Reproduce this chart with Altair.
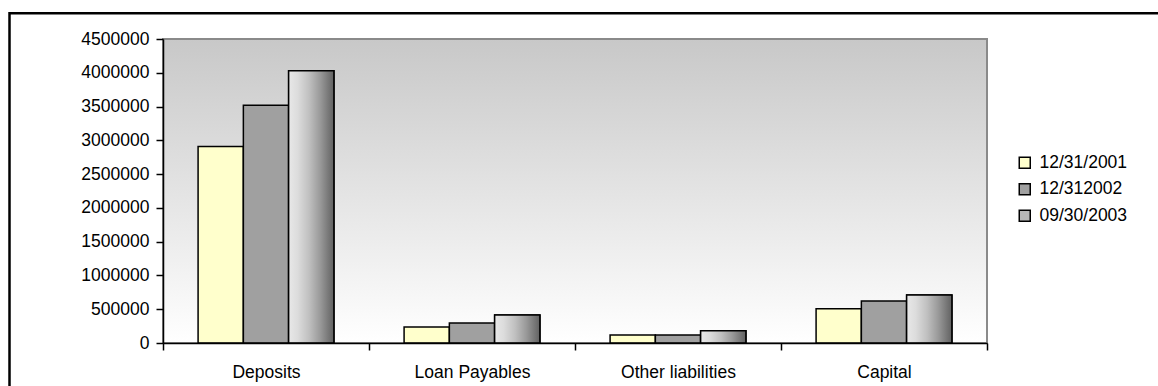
import altair as alt
import pandas as pd

categories = ["Deposits", "Loan Payables", "Other liabilities", "Capital"]
series = ["12/31/2001", "12/312002", "09/30/2003"]
values_2001 = [2910000, 236000, 120000, 506000]
values_2002 = [3520000, 295000, 117000, 620000]
values_2003 = [4030000, 413000, 182000, 712000]
y_ticks = [0, 500000, 1000000, 1500000, 2000000, 2500000, 3000000, 3500000, 4000000, 4500000]

rows = []
for s, vals in zip(series, [values_2001, values_2002, values_2003]):
    for c, v in zip(categories, vals):
        rows.append({"category": c, "series": s, "value": v})
df = pd.DataFrame(rows)

W, H = 824, 304
FONT = "Liberation Sans"
FS = 17.5

bg_grad = alt.LinearGradient(
    gradient="linear",
    stops=[alt.GradientStop(color="#c8c8c8", offset=0),
           alt.GradientStop(color="#ffffff", offset=1)],
    x1=0, x2=0, y1=0, y2=1,
)
bar_grad = alt.LinearGradient(
    gradient="linear",
    stops=[alt.GradientStop(color="#e8e8e8", offset=0),
           alt.GradientStop(color="#dcdcdc", offset=0.2),
           alt.GradientStop(color="#c0c0c0", offset=0.45),
           alt.GradientStop(color="#999999", offset=0.7),
           alt.GradientStop(color="#616161", offset=1)],
    x1=0, x2=1, y1=0, y2=0,
)

bg = alt.Chart(pd.DataFrame({"k": [0]})).mark_rect(
    fill=bg_grad, stroke="#8a8a8a", strokeWidth=2
).encode(x=alt.value(0), x2=alt.value(W), y=alt.value(0), y2=alt.value(H))

x_enc = alt.X(
    "category:N", sort=categories,
    scale=alt.Scale(paddingInner=0, paddingOuter=0),
    axis=alt.Axis(title=None, labelAngle=0, tickBand="extent", tickSize=7,
                  tickWidth=1.5, tickColor="black", domainColor="black",
                  domainWidth=1.5, labelPadding=13, labelFontSize=FS,
                  labelColor="black", labelFont=FONT, zindex=1),
)
xo_enc = alt.XOffset(
    "series:N", sort=series,
    scale=alt.Scale(domain=series, paddingInner=0, paddingOuter=0.775),
)
y_enc = alt.Y(
    "value:Q",
    scale=alt.Scale(domain=[0, 4500000], nice=False),
    axis=alt.Axis(title=None, values=y_ticks, format="d", grid=False,
                  tickSize=7, tickWidth=1.5, tickColor="black",
                  domainColor="black", domainWidth=1.5, labelPadding=7,
                  labelFontSize=FS, labelColor="black", labelFont=FONT,
                  zindex=1),
)

bars = alt.Chart(df).mark_bar(stroke="black", strokeWidth=1.5, opacity=1).encode(
    x=x_enc,
    xOffset=xo_enc,
    y=y_enc,
    color=alt.Color(
        "series:N", sort=series,
        scale=alt.Scale(domain=series, range=["#ffffcc", "#a0a0a0", "#b8b8b8"]),
        legend=alt.Legend(
            title=None, orient="none", legendX=853, legendY=115,
            symbolType="square", symbolSize=121, symbolStrokeColor="black",
            symbolStrokeWidth=1.5, symbolOpacity=1, labelFontSize=FS,
            labelFont=FONT, labelColor="black", rowPadding=7.5, labelOffset=6,
        ),
    ),
)

grad_bars = alt.Chart(df).transform_filter(
    alt.datum.series == series[2]
).mark_bar(fill=bar_grad, stroke="black", strokeWidth=1.5).encode(
    x=x_enc, xOffset=xo_enc, y=y_enc,
)

border = alt.Chart(pd.DataFrame({"k": [0]})).mark_rect(
    fillOpacity=0, stroke="black", strokeWidth=2.5
).encode(x=alt.value(-153.5), x2=alt.value(1010), y=alt.value(-25.8), y2=alt.value(370))

chart = alt.layer(bg, bars, grad_bars, border).properties(
    width=W, height=H,
    autosize=alt.AutoSizeParams(type="none"),
    padding={"left": 163, "top": 39, "right": 171, "bottom": 43},
    background="white",
).configure(font=FONT).configure_view(stroke=None)

chart.save("out.html", embed_options={"renderer": "svg", "actions": False})
